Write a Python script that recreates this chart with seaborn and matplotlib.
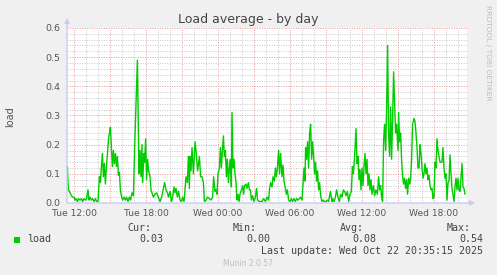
import numpy as np
import pandas as pd
import matplotlib
matplotlib.use("Agg")
import matplotlib.pyplot as plt
from matplotlib.ticker import MultipleLocator, FuncFormatter
from matplotlib.patches import Rectangle
import seaborn as sns

# ---- data (minutes since Tue 00:00, load value) ----
minutes = [
    687, 690, 693, 700, 707, 713, 720, 725, 730, 737, 743, 750, 757, 763, 770, 777, 783, 790, 795, 800,
    807, 813, 820, 827, 833, 840, 847, 852, 857, 862, 867, 872, 877, 882, 887, 892, 897, 902, 907, 912,
    917, 922, 927, 932, 937, 942, 947, 952, 957, 963, 970, 977, 983, 990, 997, 1003, 1010, 1017,
    1020, 1025, 1037, 1045, 1050, 1055, 1060, 1063, 1070, 1073, 1078, 1083, 1088, 1093, 1100, 1105, 1110, 1117, 1125, 1133,
    1142, 1150, 1158, 1167, 1173, 1180, 1187, 1193, 1200, 1207, 1213, 1220, 1225, 1230, 1237, 1243, 1250, 1257, 1263, 1270,
    1275, 1280, 1287, 1292, 1297, 1300, 1305, 1310, 1317, 1325,
    1330, 1338, 1347, 1353, 1360, 1367, 1372, 1380, 1388, 1397, 1405, 1413, 1418, 1425, 1430, 1435, 1440, 1447, 1452, 1457,
    1462, 1467, 1472, 1477, 1482, 1487, 1492, 1497, 1502, 1507, 1510, 1515, 1520, 1525, 1530, 1535, 1540, 1545, 1550, 1557,
    1563, 1568, 1573, 1580, 1585, 1592, 1597, 1602, 1607, 1613, 1620, 1627, 1633, 1638, 1647, 1655,
    1660, 1668, 1677, 1685, 1693, 1698, 1703, 1710, 1715, 1722, 1727, 1732, 1737, 1743, 1748, 1753, 1760, 1765, 1770, 1777,
    1782, 1787, 1793, 1800, 1807, 1813, 1820, 1827, 1833, 1840, 1847, 1853, 1860, 1865, 1870, 1875, 1878, 1883, 1888, 1893,
    1898, 1903, 1908, 1913, 1918, 1923, 1928, 1933, 1938, 1943, 1948, 1953, 1960, 1967, 1973, 1980, 1987, 1993, 2002, 2010,
    2013, 2020, 2027, 2033, 2040, 2047, 2053, 2060, 2067, 2073, 2080, 2087, 2093, 2100, 2107, 2112, 2117, 2123, 2130, 2135,
    2140, 2145, 2150, 2155, 2160, 2165, 2170, 2175, 2180, 2185, 2190, 2195, 2200, 2205, 2210, 2217, 2223, 2230, 2237, 2243,
    2248, 2253, 2258, 2263, 2268, 2273, 2278, 2283, 2288, 2293, 2298, 2303, 2308, 2313, 2318, 2323, 2328, 2333, 2340,
    2343, 2348, 2353, 2358, 2363, 2368, 2373, 2378, 2383, 2388, 2393, 2398, 2403, 2408, 2413, 2420, 2425, 2430, 2435, 2440,
    2445, 2450, 2455, 2460, 2465, 2470, 2475, 2480, 2485, 2490, 2495, 2500, 2505, 2510, 2515, 2520, 2525, 2530, 2535, 2540,
    2545, 2550, 2555, 2560, 2565, 2570, 2575, 2580, 2585, 2590, 2595, 2600, 2605, 2610, 2615, 2620, 2625, 2630, 2635, 2640,
    2645, 2650, 2655, 2660, 2665, 2670, 2675,
]
load = [
    0.125, 0.07, 0.045, 0.035, 0.025, 0.02, 0.02, 0.01, 0.015, 0.005, 0.015, 0.01, 0.015, 0.005, 0.015, 0.01, 0.015, 0.045, 0.01, 0.02,
    0.01, 0.015, 0.005, 0.015, 0.005, 0.005, 0.09, 0.07, 0.125, 0.17, 0.09, 0.135, 0.065, 0.125, 0.165, 0.215, 0.24, 0.26, 0.19, 0.125,
    0.18, 0.135, 0.17, 0.125, 0.16, 0.095, 0.105, 0.045, 0.025, 0.01, 0.02, 0.01, 0.02, 0.005, 0.02, 0.01, 0.035, 0.025,
    0.10, 0.23, 0.49, 0.10, 0.18, 0.09, 0.20, 0.07, 0.17, 0.14, 0.22, 0.08, 0.15, 0.11, 0.09, 0.045, 0.035, 0.02, 0.03, 0.035,
    0.02, 0.005, 0.02, 0.05, 0.07, 0.045, 0.035, 0.02, 0.04, 0.005, 0.02, 0.055, 0.035, 0.05, 0.02, 0.04, 0.01, 0.005, 0.02, 0.005,
    0.045, 0.09, 0.07, 0.16, 0.05, 0.16, 0.11, 0.19, 0.10, 0.21,
    0.18, 0.11, 0.16, 0.09, 0.09, 0.07, 0.005, 0.01, 0.02, 0.015, 0.01, 0.02, 0.09, 0.04, 0.045, 0.03, 0.10, 0.12, 0.19, 0.12,
    0.18, 0.23, 0.16, 0.18, 0.09, 0.15, 0.07, 0.12, 0.15, 0.055, 0.31, 0.12, 0.15, 0.10, 0.07, 0.01, 0.03, 0.005, 0.03, 0.045,
    0.06, 0.03, 0.06, 0.065, 0.05, 0.07, 0.045, 0.045, 0.01, 0.025, 0.005, 0.02, 0.05, 0.01, 0.005, 0.005,
    0.005, 0.015, 0.005, 0.02, 0.01, 0.05, 0.07, 0.055, 0.09, 0.075, 0.12, 0.09, 0.12, 0.18, 0.10, 0.17, 0.09, 0.13, 0.075, 0.05,
    0.03, 0.045, 0.01, 0.005, 0.015, 0.005, 0.015, 0.005, 0.015, 0.01, 0.015, 0.02, 0.01, 0.065, 0.12, 0.075, 0.19, 0.15, 0.21, 0.12,
    0.24, 0.27, 0.15, 0.21, 0.16, 0.10, 0.14, 0.075, 0.11, 0.045, 0.07, 0.025, 0.005, 0.01, 0.005, 0.005, 0.01, 0.005, 0.04, 0.005,
    0.015, 0.005, 0.02, 0.045, 0.02, 0.005, 0.03, 0.02, 0.045, 0.04, 0.025, 0.04, 0.005, 0.03, 0.04, 0.125, 0.10, 0.16, 0.255, 0.135,
    0.16, 0.08, 0.115, 0.045, 0.12, 0.06, 0.125, 0.17, 0.10, 0.15, 0.06, 0.10, 0.045, 0.08, 0.03, 0.06, 0.025, 0.045, 0.03, 0.09,
    0.045, 0.06, 0.02, 0.005, 0.215, 0.27, 0.18, 0.32, 0.54, 0.24, 0.16, 0.33, 0.15, 0.29, 0.45, 0.35, 0.24, 0.27, 0.18,
    0.31, 0.21, 0.24, 0.15, 0.09, 0.065, 0.085, 0.05, 0.08, 0.03, 0.085, 0.065, 0.08, 0.15, 0.27, 0.29, 0.28, 0.24, 0.19, 0.12,
    0.12, 0.20, 0.17, 0.12, 0.085, 0.10, 0.135, 0.10, 0.12, 0.08, 0.095, 0.06, 0.045, 0.05, 0.015, 0.02, 0.14, 0.12, 0.22, 0.18,
    0.16, 0.14, 0.14, 0.14, 0.19, 0.12, 0.085, 0.10, 0.01, 0.07, 0.075, 0.165, 0.10, 0.05, 0.03, 0.005, 0.055, 0.085, 0.045, 0.085,
    0.045, 0.04, 0.085, 0.135, 0.055, 0.05, 0.03,
]
assert len(minutes) == len(load)

tick_hours = [12, 18, 24, 30, 36, 42]
tick_labels = ["Tue 12:00", "Tue 18:00", "Wed 00:00", "Wed 06:00", "Wed 12:00", "Wed 18:00"]
window_start_min = 685   # Tue 11:25
window_end_min = 2685    # Wed 20:45
title = "Load average - by day"
ylabel = "load"
series_name = "load"
stat_names = ["Cur:", "Min:", "Avg:", "Max:"]
stat_values = ["0.03", "0.00", "0.08", "0.54"]
last_update = "Last update: Wed Oct 22 20:35:15 2025"
footer = "Munin 2.0.57"
side_text = "RRDTOOL / TOBI OETIKER"

# ---- figure ----
sns.set_style("white")
plt.rcParams["font.family"] = ["DejaVu Sans"]

W, H = 497, 275
def fx(x): return x / W
def fy(y): return 1 - y / H

fig = plt.figure(figsize=(W / 100, H / 100), dpi=100, facecolor="#F0F0F0")
ax = fig.add_axes([fx(67), fy(203), 400 / W, 175 / H])
ax.set_facecolor("white")

df = pd.DataFrame({"hour": np.array(minutes) / 60.0, "load": load})
sns.lineplot(data=df, x="hour", y="load", ax=ax, color="#00CC00", linewidth=1.0, zorder=3)

ax.set_xlim(window_start_min / 60.0, window_end_min / 60.0)
ax.set_ylim(0, 0.6)
ax.set_xlabel("")
ax.set_ylabel("")

label_map = dict(zip(tick_hours, tick_labels))
ax.xaxis.set_major_locator(MultipleLocator(3))
ax.xaxis.set_minor_locator(MultipleLocator(1))
ax.xaxis.set_major_formatter(FuncFormatter(lambda v, p: label_map.get(int(round(v)), "")))
ax.yaxis.set_major_locator(MultipleLocator(0.1))
ax.yaxis.set_minor_locator(MultipleLocator(0.02))
ax.yaxis.set_major_formatter(FuncFormatter(lambda v, p: f"{v:.1f}"))

ax.set_axisbelow(True)
ax.grid(which="minor", color="#C8C8C8", linestyle=(0, (1, 1.5)), linewidth=0.7)
ax.grid(which="major", color="#E89A9A", linestyle=(0, (1, 1.5)), linewidth=0.7)

ax.tick_params(which="both", length=0)
ax.tick_params(axis="x", which="major", pad=4.5, labelsize=6.6, labelcolor="#555555")
ax.tick_params(axis="y", which="major", pad=4.5, labelsize=6.8, labelcolor="#555555")

for s in ax.spines.values():
    s.set_visible(False)

axis_col = "#C8CCF4"
ax.annotate("", xy=(0, 1 + 10 / 175), xytext=(0, 0), xycoords="axes fraction",
            arrowprops=dict(arrowstyle="-|>", color=axis_col, lw=1.0, mutation_scale=7,
                            shrinkA=0, shrinkB=0), annotation_clip=False)
ax.annotate("", xy=(1 + 8 / 400, 0), xytext=(0, 0), xycoords="axes fraction",
            arrowprops=dict(arrowstyle="-|>", color=axis_col, lw=1.0, mutation_scale=7,
                            shrinkA=0, shrinkB=0), annotation_clip=False)

# ---- texts ----
fig.text(fx(248), fy(19.5), title, ha="center", va="center", fontsize=9, color="#444444")
fig.text(fx(10), fy(117), ylabel, ha="center", va="center", rotation=90, fontsize=7, color="#555555")
fig.text(fx(488), fy(5), side_text, ha="center", va="top", rotation=270, fontsize=5.4, color="#BDBDBD")

mono = dict(family="DejaVu Sans Mono", fontsize=7.2, color="#444444", va="center", ha="left")
fig.add_artist(Rectangle((fx(14), fy(243)), 6 / W, 6 / H, transform=fig.transFigure,
                         facecolor="#00CC00", edgecolor="none"))
fig.text(fx(27), fy(239), series_name, **mono)
name_x = [127, 233, 340, 447]
val_x = [139, 246, 352, 459]
for n, v, nx, vx in zip(stat_names, stat_values, name_x, val_x):
    fig.text(fx(nx), fy(228), n, **mono)
    fig.text(fx(vx), fy(239), v, **mono)
fig.text(fx(261), fy(251), last_update, **mono)
fig.text(fx(248), fy(264), footer, ha="center", va="center", fontsize=5.5, color="#BDBDBD")

fig.savefig("out.png", dpi=100, facecolor=fig.get_facecolor())
